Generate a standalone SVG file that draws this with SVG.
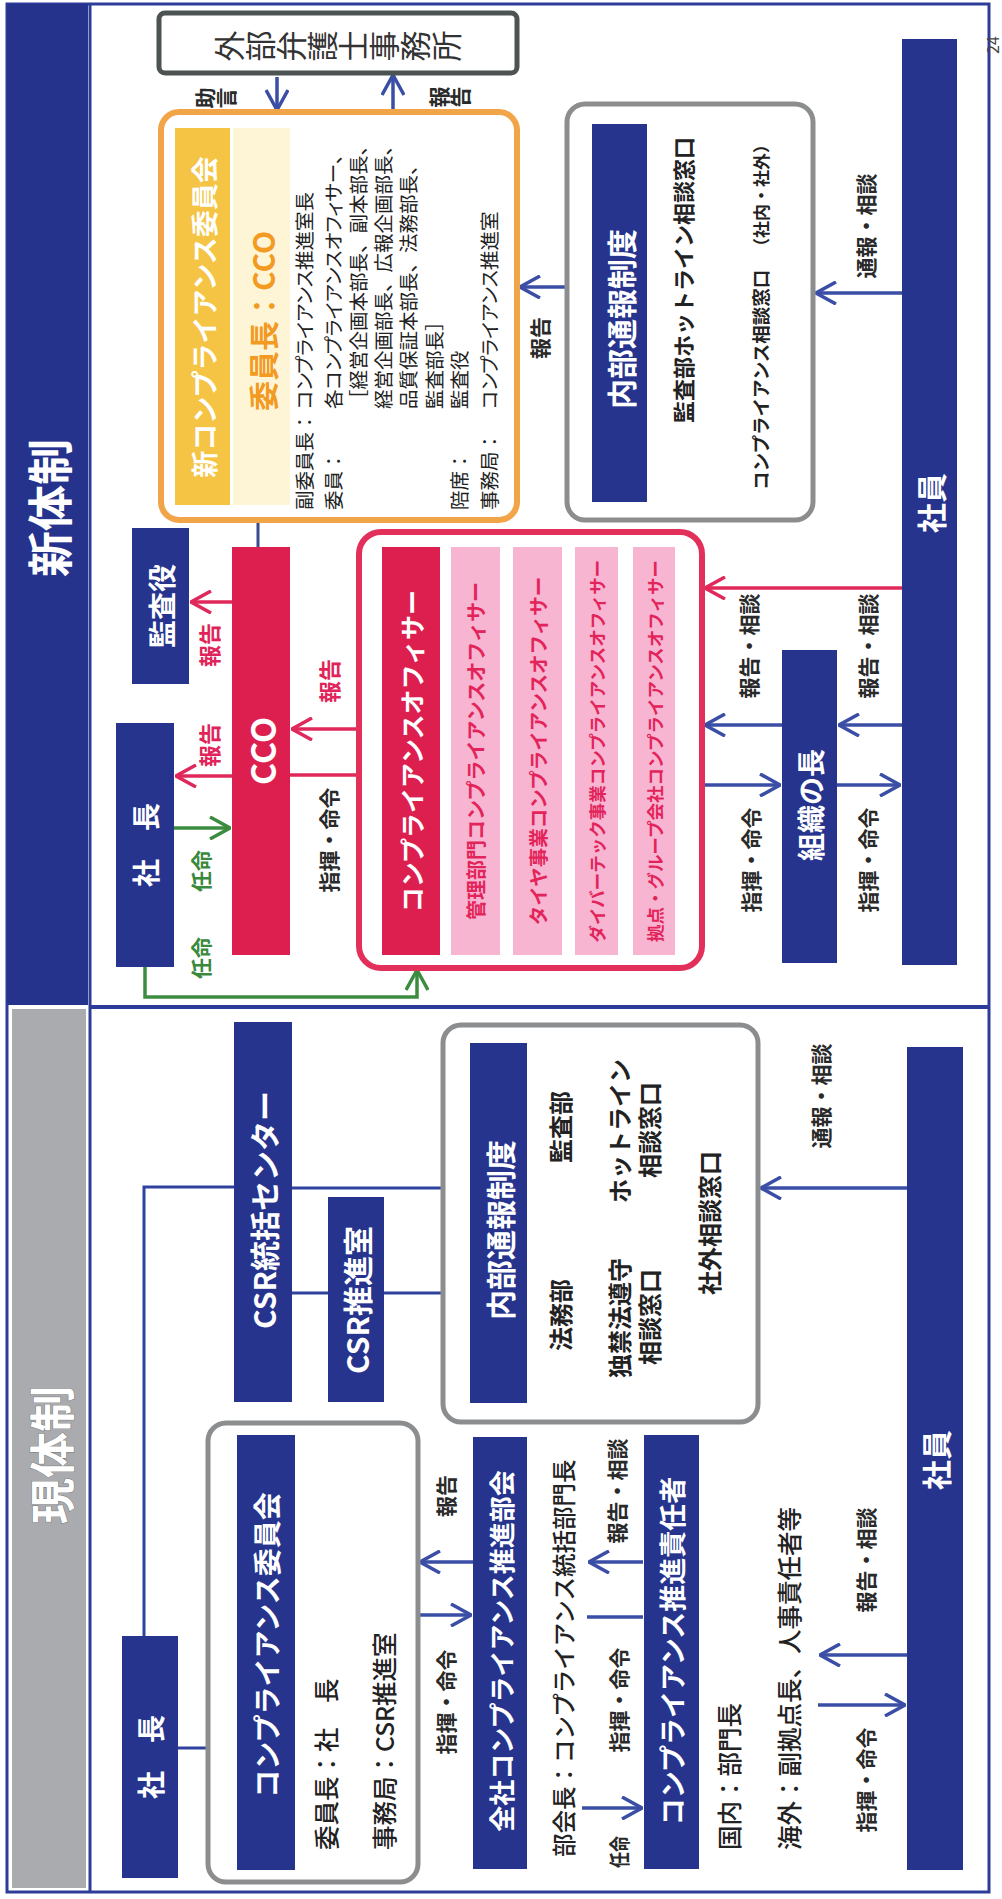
<svg xmlns="http://www.w3.org/2000/svg" width="1002" height="1899" viewBox="0 0 1002 1899">
<style>
text{font-family:"Noto Sans CJK JP","Noto Sans CJK SC",sans-serif;dominant-baseline:central}
.bx{fill:#26348e}
.wt{fill:#fff;font-weight:700;text-anchor:middle}
.lb{font-weight:700;fill:#2a2a2a;text-anchor:middle;font-size:21px}
.lr{font-weight:700;fill:#e0245a;text-anchor:middle;font-size:22px}
.lg{font-weight:700;fill:#3a8a3e;text-anchor:middle;font-size:21px}
.mem{fill:#222;font-size:19.5px}
.pl{font-feature-settings:"palt"}
.pk{fill:#f7b5d2}
.pt{fill:#e3245a;font-weight:700;text-anchor:middle}
.cb{stroke:#3a4ea6;stroke-width:3.5;fill:none}
.cr{stroke:#e0285a;stroke-width:3.5;fill:none}
.cg{stroke:#3c8c40;stroke-width:3.5;fill:none}
.cl{stroke:#2f42a0;stroke-width:3;fill:none}
.vt{writing-mode:vertical-rl;text-anchor:middle}
.ob{fill:#222;font-size:24px;font-weight:700;text-anchor:middle}
.ot{fill:#222;font-size:24.5px;font-weight:500}
</style>
<defs>
<marker id="ab" viewBox="0 0 22 24" refX="21" refY="12" markerWidth="22" markerHeight="24" markerUnits="userSpaceOnUse" orient="auto"><path d="M1,1 L21,12 L1,23" fill="none" stroke="#3a4ea6" stroke-width="3.5"/></marker>
<marker id="ar" viewBox="0 0 22 24" refX="21" refY="12" markerWidth="22" markerHeight="24" markerUnits="userSpaceOnUse" orient="auto"><path d="M1,1 L21,12 L1,23" fill="none" stroke="#e0285a" stroke-width="3.5"/></marker>
<marker id="ag" viewBox="0 0 22 24" refX="21" refY="12" markerWidth="22" markerHeight="24" markerUnits="userSpaceOnUse" orient="auto"><path d="M1,1 L21,12 L1,23" fill="none" stroke="#3c8c40" stroke-width="3.5"/></marker>
</defs>
<rect x="0" y="0" width="1002" height="1899" fill="#fff"/>
<g transform="translate(0,1899) rotate(-90)">
<g id="frame">
<rect x="7" y="7" width="1888" height="982" fill="#fff" stroke="#2d3c99" stroke-width="3"/>
<line x1="7" y1="90" x2="1895" y2="90" stroke="#2d3c99" stroke-width="3"/>
<line x1="892" y1="90" x2="892" y2="989" stroke="#2d3c99" stroke-width="4"/>
<rect x="894" y="7" width="1001" height="81" fill="#25338d"/>
<rect x="11" y="12" width="879" height="74" fill="#a9abae"/>
<text x="1391" y="47" font-size="46" class="wt">新体制</text>
<text x="444" y="49" font-size="46" class="wt" stroke="#777" stroke-width="1" paint-order="stroke">現体制</text>
<text x="1854" y="992" font-size="16" fill="#444" text-anchor="middle">24</text>
</g>

<g id="connectors">
<line class="cb" x1="1822" y1="277" x2="1789" y2="277" marker-end="url(#ab)"/>
<line class="cb" x1="1788" y1="393" x2="1824" y2="393" marker-end="url(#ab)"/>
<line x1="1352" y1="258" x2="1379" y2="258" stroke="#3b4a8c" stroke-width="3"/>
<line class="cr" x1="1297" y1="232" x2="1297" y2="191" marker-end="url(#ar)"/>
<line class="cr" x1="1123" y1="232" x2="1123" y2="176" marker-end="url(#ar)"/>
<line class="cg" x1="1071" y1="174" x2="1071" y2="230" marker-end="url(#ag)"/>
<path class="cg" d="M932,145 L902,145 L902,417 L929,417" marker-end="url(#ag)"/>
<line class="cr" x1="1170" y1="357" x2="1170" y2="292" marker-end="url(#ar)"/>
<line class="cr" x1="1124" y1="290" x2="1124" y2="357"/>
<line class="cb" x1="1114" y1="704" x2="1114" y2="780" marker-end="url(#ab)"/>
<line class="cb" x1="1114" y1="837" x2="1114" y2="900" marker-end="url(#ab)"/>
<line class="cb" x1="1174" y1="782" x2="1174" y2="705" marker-end="url(#ab)"/>
<line class="cb" x1="1174" y1="902" x2="1174" y2="839" marker-end="url(#ab)"/>
<line class="cr" x1="1311" y1="902" x2="1311" y2="705" marker-end="url(#ar)"/>
<line class="cb" x1="1606" y1="902" x2="1606" y2="816" marker-end="url(#ab)"/>
<line class="cb" x1="1612" y1="565" x2="1612" y2="520" marker-end="url(#ab)"/>

<path class="cl" d="M263,144 L712,144 L712,234"/>
<line class="cl" x1="151" y1="178" x2="151" y2="237"/>
<line class="cl" x1="711" y1="292" x2="711" y2="443"/>
<line class="cl" x1="606" y1="292" x2="606" y2="328"/>
<line class="cl" x1="606" y1="384" x2="606" y2="443"/>
<line class="cb" x1="284" y1="418" x2="284" y2="471" marker-end="url(#ab)"/>
<line class="cb" x1="337" y1="473" x2="337" y2="420" marker-end="url(#ab)"/>
<line class="cb" x1="337" y1="643" x2="337" y2="589" marker-end="url(#ab)"/>
<line class="cb" x1="282" y1="587" x2="282" y2="643"/>
<line class="cb" x1="91" y1="582" x2="91" y2="642" marker-end="url(#ab)"/>
<line class="cb" x1="244" y1="907" x2="244" y2="820" marker-end="url(#ab)"/>
<line class="cb" x1="194" y1="818" x2="194" y2="905" marker-end="url(#ab)"/>
<line class="cb" x1="711" y1="907" x2="711" y2="761" marker-end="url(#ab)"/>
</g>

<g id="connector-labels">
<text class="lb vt" x="1801" y="216" font-size="22">助言</text>
<text class="lb vt" x="1802" y="450" font-size="22">報告</text>
<text class="lr" x="1254" y="208">報告</text>
<text class="lr" x="1154" y="208">報告</text>
<text class="lg" x="1028" y="200">任命</text>
<text class="lg" x="941" y="200">任命</text>
<text class="lr" x="1218" y="328">報告</text>
<text class="lb" x="1059" y="328">指揮・命令</text>
<text class="lb" x="1039" y="750">指揮・命令</text>
<text class="lb" x="1039" y="867">指揮・命令</text>
<text class="lb" x="1253" y="748">報告・相談</text>
<text class="lb" x="1253" y="867">報告・相談</text>
<text class="lb" x="1673" y="865">通報・相談</text>
<text class="lb" x="1561" y="539" font-size="22">報告</text>
<text class="lb" x="197" y="445">指揮・命令</text>
<text class="lb" x="403" y="445" font-size="22">報告</text>
<text class="lb" x="408" y="616">報告・相談</text>
<text class="lb" x="199" y="618">指揮・命令</text>
<text class="lb" x="47" y="618" font-size="20" textLength="32" lengthAdjust="spacingAndGlyphs">任命</text>
<text class="lb" x="339" y="865">報告・相談</text>
<text class="lb" x="119" y="865">指揮・命令</text>
<text class="lb" x="803" y="820">通報・相談</text>
</g>

<g id="lawyer">
<rect x="1826" y="159" width="60" height="358" rx="6" fill="#fff" stroke="#4d5352" stroke-width="5"/>
<text class="vt" x="1853" y="338" font-size="31" fill="#333">外部弁護士事務所</text>
</g>

<g id="new-committee">
<rect x="1379" y="161" width="408" height="356" rx="18" fill="#fff" stroke="#f2a548" stroke-width="6"/>
<rect x="1394" y="175" width="377" height="55" fill="#f5c445"/>
<text class="wt" x="1582" y="203" font-size="27">新コンプライアンス委員会</text>
<rect x="1394" y="233" width="377" height="57" fill="#fdf5d5"/>
<text x="1578" y="262" font-size="30" font-weight="700" fill="#f29a22" text-anchor="middle">委員長：CCO</text>
<text class="mem" x="1389" y="303">副委員長：</text>
<text class="mem" x="1389" y="332">委員：</text>
<text class="mem" x="1389" y="458">陪席：</text>
<text class="mem" x="1389" y="488">事務局：</text>
<text class="mem pl" x="1490" y="303">コンプライアンス推進室長</text>
<text class="mem pl" x="1490" y="332">各コンプライアンスオフィサー、</text>
<text class="mem" x="1490" y="357">［経営企画本部長、副本部長、</text>
<text class="mem" x="1490" y="382">経営企画部長、広報企画部長、</text>
<text class="mem" x="1490" y="407">品質保証本部長、法務部長、</text>
<text class="mem" x="1490" y="433">監査部長］</text>
<text class="mem" x="1490" y="458">監査役</text>
<text class="mem pl" x="1490" y="488">コンプライアンス推進室</text>
</g>

<g id="cco">
<rect x="944" y="232" width="408" height="58" fill="#dc1f4f"/>
<text class="wt" x="1148" y="261" font-size="34">CCO</text>
</g>
<g id="auditor">
<rect class="bx" x="1215" y="132" width="156" height="57"/>
<text class="wt" x="1293" y="160.5" font-size="28">監査役</text>
</g>
<g id="president-new">
<rect class="bx" x="932" y="116" width="244" height="58"/>
<text class="wt" x="1054" y="145" font-size="28">社　長</text>
</g>

<g id="officers">
<rect x="931" y="359" width="436" height="343" rx="22" fill="#fff" stroke="#e2305b" stroke-width="6"/>
<rect x="944" y="382" width="408" height="58" fill="#dc1f4f"/>
<text class="wt" x="1148" y="411" font-size="25">コンプライアンスオフィサー</text>
<rect class="pk" x="944" y="451" width="408" height="49"/>
<rect class="pk" x="944" y="513" width="408" height="49"/>
<rect class="pk" x="944" y="575" width="408" height="43"/>
<rect class="pk" x="944" y="633" width="408" height="42"/>
<text class="pt" x="1148" y="475.5" font-size="20">管理部門コンプライアンスオフィサー</text>
<text class="pt" x="1148" y="537.5" font-size="19.5">タイヤ事業コンプライアンスオフィサー</text>
<text class="pt" x="1148" y="596.5" font-size="17.5">ダイバーテック事業コンプライアンスオフィサー</text>
<text class="pt" x="1148" y="654" font-size="17.5">拠点・グループ会社コンプライアンスオフィサー</text>
</g>

<g id="org-head">
<rect class="bx" x="936" y="782" width="313" height="55"/>
<text class="wt" x="1094" y="809.5" font-size="28">組織の長</text>
</g>
<g id="employees-new">
<rect class="bx" x="934" y="902" width="926" height="55"/>
<text class="wt" x="1396" y="929.5" font-size="30">社員</text>
</g>

<g id="hotline-new">
<rect x="1379" y="567" width="416" height="246" rx="18" fill="#fff" stroke="#8b8d8f" stroke-width="5"/>
<rect class="bx" x="1397" y="592" width="378" height="55"/>
<text class="wt" x="1580" y="619.5" font-size="30">内部通報制度</text>
<text x="1619" y="682" font-size="22" font-weight="700" fill="#222" text-anchor="middle">監査部ホットライン相談窓口</text>
<text x="1409" y="760" font-size="18.5" font-weight="700" fill="#222">コンプライアンス相談窓口<tspan x="1644" font-size="17">（社内・社外）</tspan></text>
</g>

<g id="president-old">
<rect class="bx" x="21" y="122" width="242" height="56"/>
<text class="wt" x="142" y="150" font-size="28">社　長</text>
</g>
<g id="csr-center">
<rect class="bx" x="497" y="234" width="380" height="58"/>
<text class="wt" x="689" y="263" font-size="30">CSR統括センター</text>
</g>
<g id="csr-office">
<rect class="bx" x="497" y="328" width="205" height="56"/>
<text class="wt" x="599" y="356" font-size="30">CSR推進室</text>
</g>

<g id="hotline-old">
<rect x="477" y="443" width="397" height="315" rx="18" fill="#fff" stroke="#8b8d8f" stroke-width="5"/>
<rect class="bx" x="496" y="470" width="360" height="57"/>
<text class="wt" x="669" y="498.5" font-size="30">内部通報制度</text>
<text class="ob" x="584" y="559">法務部</text>
<text class="ob" x="772" y="559">監査部</text>
<text class="ob" x="581" y="618">独禁法遵守</text>
<text class="ob" x="582" y="648">相談窓口</text>
<text class="ob" x="768" y="618">ホットライン</text>
<text class="ob" x="769" y="648">相談窓口</text>
<text class="ob" x="676" y="708">社外相談窓口</text>
</g>

<g id="committee-old">
<rect x="17" y="208" width="459" height="210" rx="18" fill="#fff" stroke="#8b8d8f" stroke-width="5"/>
<rect class="bx" x="29" y="237" width="435" height="58"/>
<text class="wt" x="254" y="266" font-size="28">コンプライアンス委員会</text>
<text class="ot" x="49" y="325">委員長：社　長</text>
<text class="ot" x="49" y="383.5">事務局：CSR推進室</text>
</g>

<g id="promotion-council">
<rect class="bx" x="30" y="473" width="432" height="54"/>
<text class="wt" x="248" y="500" font-size="26">全社コンプライアンス推進部会</text>
<text x="42" y="562.5" font-size="23.5" font-weight="500" fill="#222">部会長：コンプライアンス統括部門長</text>
</g>

<g id="promotion-manager">
<rect class="bx" x="30" y="644" width="434" height="55"/>
<text class="wt" x="248" y="671.5" font-size="27">コンプライアンス推進責任者</text>
<text class="ot" x="49" y="728.5">国内：部門長</text>
<text class="ot" x="49" y="788.5" font-size="25.5">海外：副拠点長、人事責任者等</text>
</g>

<g id="employees-old">
<rect class="bx" x="29" y="907" width="823" height="56"/>
<text class="wt" x="439" y="935" font-size="30">社員</text>
</g>
</g>
</svg>
